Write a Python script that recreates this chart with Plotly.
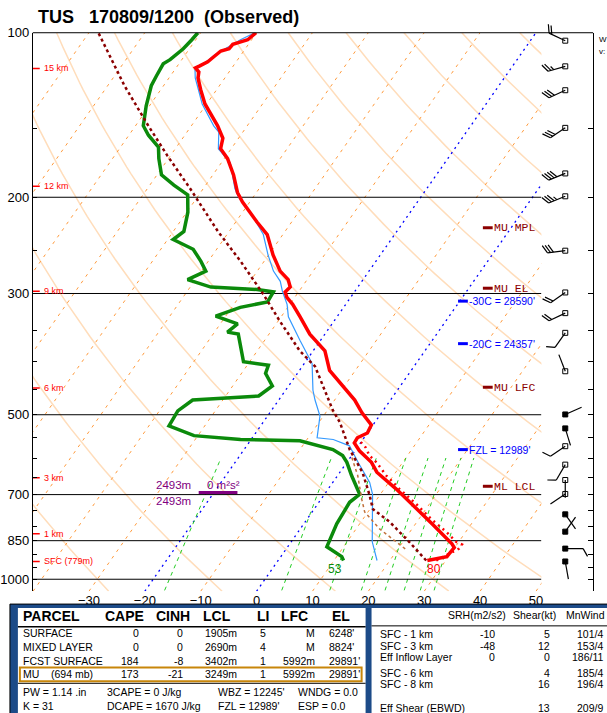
import numpy as np
import plotly.graph_objects as go

# ---------------- TUS 170809/1200 observed sounding ----------------
pres_t = [924, 916, 909, 875, 861, 792, 732, 684, 637, 611, 582, 563, 551, 540, 522,
          496, 470, 443, 415, 382, 356, 331, 314, 305, 298, 292, 283, 273, 255, 234,
          222, 204, 196, 182, 170, 163, 156, 148, 135, 127, 121, 118, 116, 115, 113,
          111, 108, 107, 105, 104, 103, 100]
temp = [26.7, 28.6, 29.7, 29.9, 29.0, 23.0, 17.1, 12.2, 6.6, 4.4, 0.8, -1.1, -1.2, 0.0, -0.3,
        -3.5, -6.4, -10.3, -14.6, -17.9, -22.7, -26.6, -29.5, -31.4, -32.4, -32.1, -33.4, -35.9, -39.2, -42.8,
        -46.2, -51.3, -53.4, -56.3, -59.4, -61.9, -62.8, -65.3, -70.3, -72.9, -74.8, -75.4, -76.5, -76.0, -75.1,
        -74.7, -74.1, -72.9, -72.8, -71.8, -70.7, -70.1]

pres_d = [924, 909, 872, 792, 723, 699, 646, 611, 594, 579, 558, 555, 546, 524, 492, 470, 462,
          443, 420, 406, 400, 356, 353, 341, 330, 318, 311, 298, 295, 292, 283, 273, 262, 249,
          239, 231, 213, 198, 190, 182, 170, 162, 154, 148, 136, 125, 120, 114, 112, 107, 103, 100]
dwpt = [11.7, 10.9, 7.0, 5.9, 5.5, 6.3, 2.5, 0.0, -1.6, -4.1, -11.1, -21.9, -30.7, -36.4, -36.7, -35.4, -24.1,
        -22.9, -25.7, -26.2, -31.1, -35.5, -37.7, -36.9, -41.8, -38.5, -34.3, -34.5, -37.7, -46.3, -51.4, -49.2,
        -51.3, -54.2, -59.0, -58.1, -59.8, -62.0, -65.7, -69.2, -71.7, -73.2, -76.5, -78.6, -80.6, -82.2, -82.5,
        -82.8, -82.1, -81.1, -80.7, -80.5]

pres_w = [924, 854, 699, 665, 611, 594, 570, 555, 551, 503, 470, 451, 403, 366, 331, 314, 297, 285,
          273, 255, 234, 213, 200, 193, 173, 163, 152, 148, 135, 127, 121, 116, 113, 110, 103, 100]
wetbulb = [17.7, 14.5, 8.6, 6.6, 2.0, 0.5, -1.6, -5.3, -8.4, -10.6, -13.5, -15.1, -18.6, -23.6, -28.7, -30.5,
           -33.0, -34.6, -37.1, -40.1, -43.5, -48.6, -52.6, -54.3, -58.4, -62.3, -64.3, -66.0, -70.8, -73.3,
           -75.3, -76.6, -75.3, -74.8, -72.0, -70.3]

pres_tv = [924, 898, 879, 864, 854, 819, 779, 729, 684, 646, 611, 594, 574, 558]
t_virt = [28.3, 29.7, 30.9, 30.9, 29.5, 26.5, 22.5, 17.7, 12.8, 8.7, 5.3, 3.2, 1.5, -0.4]

pres_parcel = [924, 854, 785, 744, 702, 638, 579, 517, 490, 451, 408, 382, 337, 301, 262, 231,
               193, 168, 148, 125, 115, 100]
t_parcel = [26.5, 21.1, 15.1, 10.5, 8.2, 4.1, -1.1, -6.2, -9.1, -13.0, -17.7, -22.4, -29.7, -36.0, -44.2,
            -52.0, -62.3, -70.5, -77.7, -87.0, -91.2, -98.3]

pres_dd = [599, 646, 714, 753, 809, 883]
t_dd = [0.3, 3.6, 7.3, 9.4, 14.2, 21.6]

# wind barbs
barb_p = [103.4, 115.2, 127.4, 149.3, 180.9, 199.2, 250.5, 298.7, 325.9, 354.1, 416.3,
          499.4, 529.6, 570.9, 617.0, 658.3, 698.2, 760.8, 818.3, 878.9, 927.9]
barb_dir = [295, 254, 245, 236, 248, 248, 263, 235, 245, 215, 339, 66, 163, 236, 210, 180, 236, 145, 35, 90, 170]
barb_spd = [20, 25, 30, 30, 40, 35, 30, 20, 20, 10, 2, 2, 2, 10, 10, 2, 2, 2, 2, 10, 2]
barb_fill = [0, 0, 0, 0, 0, 0, 0, 0, 0, 0, 0, 1, 1, 0, 0, 0, 0, 1, 1, 1, 1]

# height markers
hgt_labels = ["15 km", "12 km", "9 km", "6 km", "3 km", "1 km", "SFC (779m)"]
hgt_pres = [116.2, 191.0, 297.1, 446.7, 652.4, 825.2, 927.9]

# level markers
mu_labels = ["MU MPL", "MU EL", "MU LFC", "ML LCL"]
mu_pres = [227.5, 293.4, 445.3, 675.9]
frz_labels = ["-30C = 28590'", "-20C = 24357'", "FZL = 12989'"]
frz_pres = [309.8, 370.6, 579.1]
eil_pres = 694
eil_text = "2493m"
eil_srh = "0 m\u00b2s\u00b2"

# grid definitions
dry_adiabats = list(range(-30, 231, 20))          # theta at 1000 mb, deg C
isotherms = list(range(-110, 51, 10))
blue_isotherms = [-20, 0]
mix_ratios = [1, 5, 9, 13, 17, 21, 25, 29]       # g/kg
isobars = [200, 300, 500, 700, 850, 1000]
temp_ticks = [-30, -20, -10, 0, 10, 20, 30, 40, 50]
pres_ticks = list(range(100, 1001, 50))
pres_labels = {100: "100", 200: "200", 300: "300", 500: "500", 700: "700", 850: "850", 1000: "1000"}

# table values
parcel_names = ["SURFACE", "MIXED LAYER", "FCST SURFACE", "MU\u00a0\u00a0\u00a0\u00a0(694 mb)"]
parcel_cape = [0, 0, 184, 173]
parcel_cinh = [0, 0, -8, -21]
parcel_lcl = ["1905m", "2690m", "3402m", "3249m"]
parcel_li = [5, 4, 1, 1]
parcel_lfc = ["M", "M", "5992m", "5992m"]
parcel_el = ["6248'", "8824'", "29891'", "29891'"]
index_text = ["PW = 1.14 .in", "3CAPE = 0 J/kg", "WBZ = 12245'", "WNDG = 0.0",
              "K = 31", "DCAPE = 1670 J/kg", "FZL = 12989'", "ESP = 0.0"]
kin_layers = ["SFC - 1 km", "SFC - 3 km", "Eff Inflow Layer", "SFC - 6 km", "SFC - 8 km", "Eff Shear (EBWD)"]
kin_srh = ["-10", "-48", "0", "", "", ""]
kin_shear = [5, 12, 0, 4, 16, 13]
kin_mnwind = ["101/4", "153/4", "186/11", "185/4", "196/4", "209/9"]

# ---------------- geometry ----------------
W, H = 607, 713
PL, PR, PT, PB = 31, 543, 26, 590
P_TOP, P_BOT = 100.0, 1051.7
PX_PER_C = 5.625
X0_PX = 256.3
PPD = (PB - PT) / (np.log10(P_BOT) - np.log10(P_TOP))   # pixels per decade
SKEW = 0.698 * (PPD / np.log(10)) / PX_PER_C
X_MIN = (PL - X0_PX) / PX_PER_C
X_MAX = (PR - X0_PX) / PX_PER_C
BARB_X = 567
SANS = "Liberation Sans, Arial, sans-serif"


def skew(t, p):
    return np.asarray(t, float) + SKEW * np.log(P_BOT / np.asarray(p, float))


def fx(px):
    return px / W


def fy(py):
    return 1 - py / H


def join(lines):
    xs, ys = [], []
    for x, y in lines:
        xs += list(x) + [None]
        ys += list(y) + [None]
    return xs, ys


fig = go.Figure()

# dry adiabats
pp = np.geomspace(P_BOT, P_TOP, 80)
lines = []
for th in dry_adiabats:
    t = (th + 273.15) * (pp / 1000.0) ** 0.2857 - 273.15
    lines.append((skew(t, pp), pp))
xs, ys = join(lines)
fig.add_trace(go.Scatter(x=xs, y=ys, mode="lines", line=dict(color="#FFDDBB", width=1.5), hoverinfo="skip"))

# isotherms
pe = np.array([P_BOT, P_TOP])
xs, ys = join([(skew([t, t], pe), pe) for t in isotherms if t not in blue_isotherms])
fig.add_trace(go.Scatter(x=xs, y=ys, mode="lines", line=dict(color="#FF9A3C", width=1, dash="3px,5px"), hoverinfo="skip"))
xs, ys = join([(skew([t, t], pe), pe) for t in blue_isotherms])
fig.add_trace(go.Scatter(x=xs, y=ys, mode="lines", line=dict(color="#0000FF", width=1.3, dash="2px,4px"), hoverinfo="skip"))

# mixing ratio lines
pm = np.geomspace(1048, 600, 30)
lines = []
for w in mix_ratios:
    e = pm * w / (622.0 + w)
    le = np.log(e / 6.112)
    td = 243.5 * le / (17.67 - le)
    lines.append((skew(td, pm), pm))
xs, ys = join(lines)
fig.add_trace(go.Scatter(x=xs, y=ys, mode="lines", line=dict(color="#22CC22", width=1, dash="4px,4px"), hoverinfo="skip"))

# isobars
xs, ys = join([([X_MIN, X_MAX], [p, p]) for p in isobars])
fig.add_trace(go.Scatter(x=xs, y=ys, mode="lines", line=dict(color="black", width=1), hoverinfo="skip"))

# profiles
fig.add_trace(go.Scatter(x=skew(wetbulb, pres_w), y=pres_w, mode="lines", line=dict(color="#3399FF", width=1.2)))
fig.add_trace(go.Scatter(x=skew(dwpt, pres_d), y=pres_d, mode="lines", line=dict(color="#0B8A0B", width=3.5)))
fig.add_trace(go.Scatter(x=skew(temp, pres_t), y=pres_t, mode="lines", line=dict(color="#FF0000", width=3.5)))
fig.add_trace(go.Scatter(x=skew(t_virt, pres_tv), y=pres_tv, mode="lines", line=dict(color="#FF0000", width=2.5, dash="2px,4px")))
fig.add_trace(go.Scatter(x=skew(t_dd, pres_dd), y=pres_dd, mode="lines", line=dict(color="#C0703A", width=1.5, dash="3px,3px")))
fig.add_trace(go.Scatter(x=skew(t_parcel, pres_parcel), y=pres_parcel, mode="lines", line=dict(color="#8B0000", width=2.5, dash="3px,3px")))

# height ticks
xs, ys = join([([X_MIN, X_MIN + 7 / PX_PER_C], [p, p]) for p in hgt_pres])
fig.add_trace(go.Scatter(x=xs, y=ys, mode="lines", line=dict(color="#FF0000", width=1.5), hoverinfo="skip"))

# level dashes
fig.add_trace(go.Scatter(x=[X_MIN + (489 - PL) / PX_PER_C] * len(mu_pres), y=mu_pres, mode="markers",
                         marker=dict(symbol="line-ew", size=7, line=dict(color="#8B0000", width=3))))
fig.add_trace(go.Scatter(x=[X_MIN + (464 - PL) / PX_PER_C] * len(frz_pres), y=frz_pres, mode="markers",
                         marker=dict(symbol="line-ew", size=7, line=dict(color="#0000FF", width=3))))
# effective inflow bar
fig.add_trace(go.Scatter(x=[X_MIN + (198 - PL) / PX_PER_C, X_MIN + (237 - PL) / PX_PER_C], y=[eil_pres, eil_pres],
                         mode="lines", line=dict(color="#800080", width=3)))

# right frame axis holder
fig.add_trace(go.Scatter(x=[0], y=[500], yaxis="y3", mode="markers", marker=dict(opacity=0), hoverinfo="skip"))

# wind barbs
SHAFT, FEATHER = 18, 9


def barb(p, wdir, wspd):
    a = np.radians(wdir)
    ux, uy = np.sin(a), -np.cos(a)
    rx, ry = -uy, ux
    fxv, fyv = 0.87 * rx + 0.49 * ux, 0.87 * ry + 0.49 * uy
    pts = [(0, 0), (ux * SHAFT, uy * SHAFT), None]
    spd = int(5 * round(wspd / 5))
    full, half = spd // 10, (spd % 10) // 5
    pos = SHAFT
    for _ in range(full):
        bx, by = ux * pos, uy * pos
        pts += [(bx, by), (bx + FEATHER * fxv, by + FEATHER * fyv), None]
        pos -= 3
    if half:
        if full == 0:
            pos -= 3
        bx, by = ux * pos, uy * pos
        pts += [(bx, by), (bx + FEATHER / 2 * fxv, by + FEATHER / 2 * fyv), None]
    bxs, bys = [], []
    for pt in pts:
        if pt is None:
            bxs.append(None)
            bys.append(None)
        else:
            bxs.append(BARB_X + pt[0])
            bys.append(p * 10 ** (pt[1] / PPD))
    return bxs, bys


bx_all, by_all = [], []
for p, d, s in zip(barb_p, barb_dir, barb_spd):
    bxs, bys = barb(p, d, s)
    bx_all += bxs
    by_all += bys
fig.add_trace(go.Scatter(x=bx_all, y=by_all, xaxis="x2", yaxis="y2", mode="lines",
                         line=dict(color="black", width=1.2), hoverinfo="skip"))
fig.add_trace(go.Scatter(x=[BARB_X] * len(barb_p), y=barb_p, xaxis="x2", yaxis="y2", mode="markers",
                         marker=dict(symbol=["square" if f else "square-open" for f in barb_fill],
                                     size=5, color="black", line=dict(color="black", width=1))))

# ---------------- annotations ----------------
ann = []


def txt(text, x, y, size=10.5, color="black", xanchor="left", family=SANS, **kw):
    ann.append(dict(text=text, x=fx(x), y=fy(y), xref="paper", yref="paper", showarrow=False, borderpad=0,
                    xanchor=xanchor, yanchor="middle", font=dict(size=size, color=color, family=family), **kw))


txt("<b>TUS\u00a0\u00a0\u00a0170809/1200\u00a0\u00a0(Observed)</b>", 35, 10, size=18)

for lab, p in zip(hgt_labels, hgt_pres):
    ann.append(dict(text=lab, x=X_MIN + 10 / PX_PER_C, y=np.log10(p), xref="x", yref="y", showarrow=False,
                    borderpad=0, xanchor="left", yanchor="middle",
                    font=dict(size=9, color="#FF0000", family=SANS)))
for lab, p in zip(mu_labels, mu_pres):
    ann.append(dict(text=lab, x=fx(494), y=np.log10(p), xref="paper", yref="y", showarrow=False,
                    borderpad=0, xanchor="left", yanchor="middle",
                    font=dict(size=11.5, color="#8B0000", family="Liberation Mono, Courier New, monospace")))
for lab, p in zip(frz_labels, frz_pres):
    ann.append(dict(text=lab, x=fx(469), y=np.log10(p), xref="paper", yref="y", showarrow=False,
                    borderpad=0, xanchor="left", yanchor="middle",
                    font=dict(size=10.5, color="#0000FF", family=SANS)))
for ya, ys_ in (("bottom", 1), ("top", -1)):
    ann.append(dict(text=eil_text, x=fx(191), y=np.log10(eil_pres), xref="paper", yref="y", showarrow=False,
                    borderpad=0, xanchor="right", yanchor=ya, yshift=ys_,
                    font=dict(size=11.5, color="#800080", family=SANS)))
ann.append(dict(text=eil_srh, x=fx(205), y=np.log10(eil_pres), xref="paper", yref="y", showarrow=False,
                borderpad=0, xanchor="left", yanchor="bottom", yshift=1,
                font=dict(size=11.5, color="#800080", family=SANS)))

txt(str(round(dwpt[0] * 9 / 5 + 32)), 335, 568, size=12, color="#0B8A0B", xanchor="center")
txt(str(round(temp[0] * 9 / 5 + 32)), 435, 568, size=12, color="#FF0000", xanchor="center")
txt("W", 600, 33, size=8)
txt("v:", 600, 45, size=8)

# table
hdr = [("PARCEL", 20, "left"), ("CAPE", 123, "center"), ("CINH", 172.5, "center"), ("LCL", 216.5, "center"),
       ("LI", 263, "center"), ("LFC", 294, "center"), ("EL", 341, "center")]
for t, x, a in hdr:
    txt("<b>" + t + "</b>", x, 615.5, size=14, xanchor=a)
row_y = [632.5, 646, 660, 673.5]
for i, y in enumerate(row_y):
    txt(parcel_names[i], 20, y)
    txt(str(parcel_cape[i]), 139, y, xanchor="right")
    txt(str(parcel_cinh[i]), 183.5, y, xanchor="right")
    txt(parcel_lcl[i], 203, y)
    txt(str(parcel_li[i]), 267, y, xanchor="right")
    txt(parcel_lfc[i], 316.5, y, xanchor="right")
    txt(parcel_el[i], 328, y)
for i, t in enumerate(index_text):
    txt(t, [20, 105, 216, 297][i % 4], [692, 705.5][i // 4])

txt("SRH(m2/s2)", 448, 614)
txt("Shear(kt)", 513, 614)
txt("MnWind", 567, 614)
kin_y = [633.5, 645, 656, 672.5, 684, 707.5]
for i, y in enumerate(kin_y):
    txt(kin_layers[i], 379, y)
    txt(kin_srh[i], 497, y, xanchor="right")
    txt(str(kin_shear[i]), 552.5, y, xanchor="right")
    txt(kin_mnwind[i], 605.5, y, xanchor="right")

shapes = [
    dict(type="line", xref="paper", yref="paper", x0=fx(PL), x1=fx(595), y0=fy(PT), y1=fy(PT),
         line=dict(color="black", width=1)),
    dict(type="rect", xref="paper", yref="paper", x0=fx(8), x1=fx(612), y0=fy(603), y1=fy(716),
         fillcolor="#1C4B88", line=dict(color="black", width=1)),
    dict(type="rect", xref="paper", yref="paper", x0=fx(16), x1=fx(366), y0=fy(607), y1=fy(716),
         fillcolor="white", line=dict(width=0)),
    dict(type="rect", xref="paper", yref="paper", x0=fx(372), x1=fx(612), y0=fy(607), y1=fy(716),
         fillcolor="white", line=dict(width=0)),
    dict(type="line", xref="paper", yref="paper", x0=fx(16), x1=fx(366), y0=fy(626), y1=fy(626),
         line=dict(color="black", width=1.5)),
    dict(type="line", xref="paper", yref="paper", x0=fx(16), x1=fx(366), y0=fy(683), y1=fy(683),
         line=dict(color="black", width=1)),
    dict(type="line", xref="paper", yref="paper", x0=fx(372), x1=fx(612), y0=fy(625), y1=fy(625),
         line=dict(color="black", width=1)),
    dict(type="rect", xref="paper", yref="paper", x0=fx(18), x1=fx(362), y0=fy(667), y1=fy(681),
         line=dict(color="#C8860A", width=2)),
]

ydom = [fy(PB), fy(PT)]
yrange = [np.log10(P_BOT), np.log10(P_TOP)]
fig.update_layout(
    width=W, height=H, margin=dict(l=0, r=0, t=0, b=0, pad=0),
    paper_bgcolor="white", plot_bgcolor="white", showlegend=False, hovermode=False,
    xaxis=dict(domain=[fx(PL), fx(PR)], range=[X_MIN, X_MAX], showgrid=False, zeroline=False,
               tickvals=temp_ticks, ticks="", tickfont=dict(size=13, color="black", family=SANS),
               showline=False, fixedrange=True),
    yaxis=dict(domain=ydom, type="log", range=yrange, showgrid=False, zeroline=False,
               tickvals=pres_ticks, ticktext=[pres_labels.get(p, "") for p in pres_ticks],
               ticks="inside", ticklen=4, tickcolor="black", showline=True, linecolor="black", linewidth=1,
               tickfont=dict(size=13, color="black", family=SANS)),
    yaxis3=dict(overlaying="y", side="right", anchor="free", position=fx(595), type="log", range=yrange,
                tickvals=pres_ticks, ticks="inside", ticklen=5, tickcolor="black", showticklabels=False,
                showline=True, linecolor="black", linewidth=1, showgrid=False, zeroline=False),
    xaxis2=dict(domain=[fx(PR), 1.0], range=[PR, W], visible=False, anchor="y2"),
    yaxis2=dict(domain=[fy(600), 1.0], type="log", visible=False, anchor="x2",
                range=[np.log10(P_TOP) + (600 - PT) / PPD, np.log10(P_TOP) - PT / PPD]),
    annotations=ann, shapes=shapes,
)

# the page's default body margin would shift the figure by 8 px
fig.write_html("out.html", config={"displayModeBar": False},
               post_script="document.body.style.margin='0px';document.body.style.overflow='hidden';")
